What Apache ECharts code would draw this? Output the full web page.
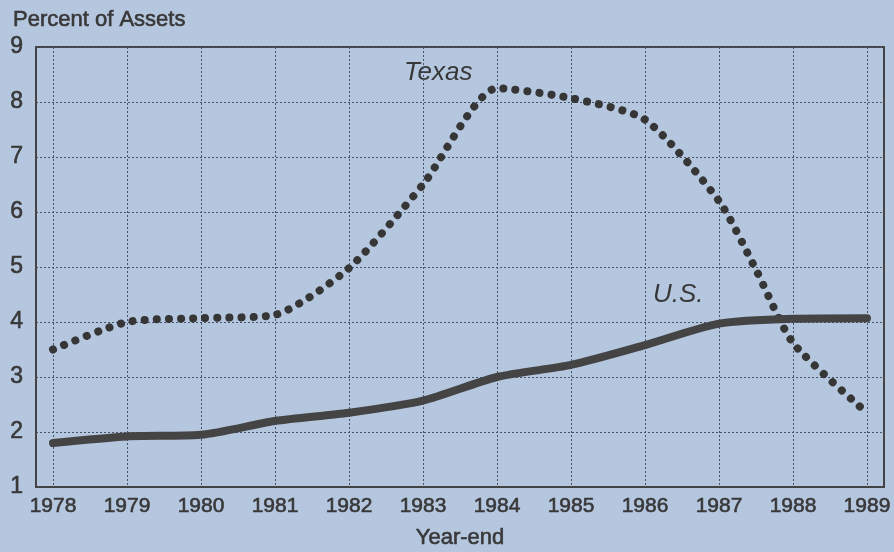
<!DOCTYPE html>
<html>
<head>
<meta charset="utf-8">
<script src="https://cdn.jsdelivr.net/npm/echarts@6/dist/echarts.min.js"></script>
<style>
  html, body { margin: 0; padding: 0; background: #b5c6df; }
  #chart { width: 894px; height: 552px; }
</style>
</head>
<body>
<div id="chart"></div>
<script>
// data (percent of assets, year-end)
var years = [1978, 1979, 1980, 1981, 1982, 1983, 1984, 1985, 1986, 1987, 1988, 1989];
var texasYears = [1978, 1979, 1980, 1981, 1982, 1983, 1984, 1985, 1986, 1987, 1987.5, 1988, 1989];
var texas = [3.5, 4.0, 4.07, 4.13, 4.98, 6.5, 8.25, 8.07, 7.68, 6.2, 4.95, 3.62, 2.35];
var us = [1.8, 1.92, 1.95, 2.2, 2.35, 2.57, 3.0, 3.22, 3.58, 3.97, 4.06, 4.07];

var ink = '#383838';
var font = '"Liberation Sans", Arial, sans-serif';
// slight outline makes the scanned, heavier type
var heavy = { textBorderColor: ink, textBorderWidth: 0.6 };

var chart = echarts.init(document.getElementById('chart'));

var option = {
    backgroundColor: '#b5c6df',
    animation: false,
    grid: {
        show: true,
        left: 36,
        right: 10,
        top: 47,
        bottom: 65,
        containLabel: false,
        outerBoundsMode: 'none',
        borderColor: '#444',
        borderWidth: 2,
        backgroundColor: 'transparent'
    },
    title: {
        text: 'Percent of Assets',
        left: 8,
        top: 4,
        textStyle: Object.assign({ color: ink, fontSize: 22, fontWeight: 'normal', fontFamily: font }, heavy)
    },
    xAxis: {
        type: 'value',
        min: 1977.77,
        max: 1989.23,
        name: 'Year-end',
        nameLocation: 'middle',
        nameGap: 40,
        nameTextStyle: Object.assign({ color: ink, fontSize: 22, fontFamily: font }, heavy),
        axisLine: { show: true, lineStyle: { color: '#444', width: 2 } },
        axisTick: { show: false, customValues: years },
        axisLabel: Object.assign({
            customValues: years,
            margin: 9,
            color: ink,
            fontSize: 21,
            fontFamily: font,
            formatter: function (v) { return String(v); }
        }, heavy),
        splitLine: { show: true, lineStyle: { color: '#46536b', type: [2, 2], width: 1 } }
    },
    yAxis: {
        type: 'value',
        min: 1,
        max: 9,
        interval: 1,
        axisLine: { show: true, lineStyle: { color: '#444', width: 2 } },
        axisTick: { show: false },
        axisLabel: Object.assign({ margin: 13, color: ink, fontSize: 23, fontFamily: font }, heavy),
        splitLine: { show: true, lineStyle: { color: '#46536b', type: [2, 2], width: 1 } }
    },
    series: [{
        name: 'Texas',
        type: 'line',
        smooth: 0.22,
        symbol: 'none',
        data: texasYears.map(function (y, i) { return [y, texas[i]]; }),
        lineStyle: { color: '#363636', width: 8, type: [0.1, 12], cap: 'round' }
    }, {
        name: 'U.S.',
        type: 'line',
        smooth: 0.25,
        symbol: 'none',
        data: years.map(function (y, i) { return [y, us[i]]; }),
        lineStyle: { color: '#444444', width: 8, cap: 'round' }
    }],
    graphic: [{
        type: 'text',
        left: 404,
        top: 60,
        style: { text: 'Texas', fill: ink, font: 'italic 26px ' + font }
    }, {
        type: 'text',
        left: 653,
        top: 282,
        style: { text: 'U.S.', fill: ink, font: 'italic 26px ' + font }
    }]
};

chart.setOption(option);
</script>
</body>
</html>
